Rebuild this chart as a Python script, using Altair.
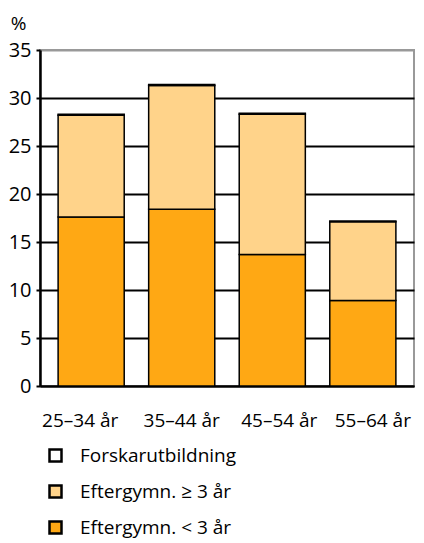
import altair as alt
import pandas as pd

categories = ["25–34 år", "35–44 år", "45–54 år", "55–64 år"]
series = ["Forskarutbildning", "Eftergymn. ≥ 3 år", "Eftergymn. < 3 år"]
forskar = [0.1, 0.1, 0.1, 0.1]
eftergymn_ge3 = [10.6, 12.9, 14.6, 8.2]
eftergymn_lt3 = [17.6, 18.4, 13.7, 8.9]
colors = ["#FFFFFF", "#FFD38A", "#FFA814"]
y_ticks = [0, 5, 10, 15, 20, 25, 30, 35]
label_shift = [-11, 0, 7, 10]

rows = []
for i, c in enumerate(categories):
    rows.append({"cat": c, "serie": series[2], "val": eftergymn_lt3[i], "ord": 0})
    rows.append({"cat": c, "serie": series[1], "val": eftergymn_ge3[i], "ord": 1})
    rows.append({"cat": c, "serie": series[0], "val": forskar[i], "ord": 2})
df = pd.DataFrame(rows)

FONT = "Open Sans"

offset_cond = {
    "condition": [{"test": f"datum.value === '{c}'", "value": s}
                  for c, s in zip(categories, label_shift) if s != 0],
    "value": 0,
}

chart = alt.Chart(df).mark_bar(stroke="black", strokeWidth=1.5).encode(
    x=alt.X("cat:N", sort=categories, title=None,
            scale=alt.Scale(paddingInner=0.27, paddingOuter=0.2),
            axis=alt.Axis(labelAngle=0, ticks=False, domainColor="black", domainWidth=2,
                          labelFontSize=19, labelPadding=25, labelColor="black", labelFont=FONT,
                          labelOffset=offset_cond)),
    y=alt.Y("val:Q", stack="zero", title="%",
            scale=alt.Scale(domain=[0, 35], nice=False),
            axis=alt.Axis(values=y_ticks, grid=True,
                          gridColor=alt.condition("datum.value == 35", alt.value("#999999"), alt.value("black")),
                          gridWidth=2, domainColor="black", domainWidth=2.5,
                          tickColor="black", tickSize=4, tickWidth=2, labelPadding=5,
                          labelFontSize=20, labelColor="black", labelFont=FONT,
                          titleAngle=0, titleAlign="center", titleBaseline="alphabetic",
                          titleX=-22, titleY=-21, titleFontSize=19, titleFontWeight="normal",
                          titleFont=FONT, titleColor="black")),
    color=alt.Color("serie:N", scale=alt.Scale(domain=series, range=colors),
                    legend=alt.Legend(title=None, orient="none", legendX=6, legendY=396,
                                      direction="vertical", symbolType="square", symbolSize=144,
                                      symbolStrokeColor="black", symbolStrokeWidth=2.5,
                                      labelFontSize=19, labelFont=FONT, labelColor="black",
                                      labelOffset=15, rowPadding=13, padding=0)),
    order=alt.Order("ord:Q"),
).properties(
    width=374, height=336,
    autosize=alt.AutoSizeParams(type="none"),
    padding={"left": 32, "top": 42, "right": 2, "bottom": 157},
).configure_view(stroke="#999999", strokeWidth=2)

chart.save("out.html", embed_options={"renderer": "svg", "actions": False})
